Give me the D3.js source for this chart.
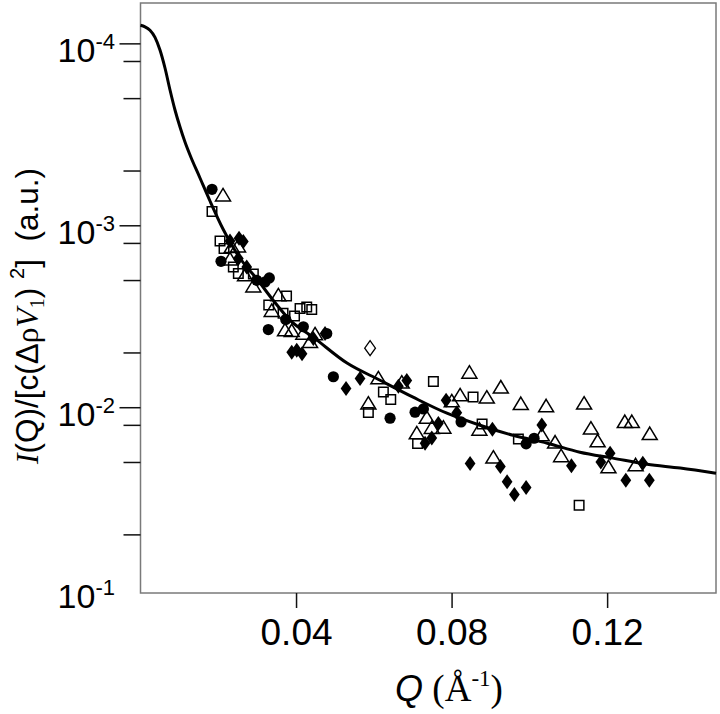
<!DOCTYPE html>
<html>
<head>
<meta charset="utf-8">
<script src="https://cdn.jsdelivr.net/npm/d3@7"></script>
<style>
body { margin: 0; background: #fff; }
svg { display: block; }
</style>
</head>
<body>
<svg id="chart" width="720" height="714"></svg>
<script>
// fitted model curve
var curveQ = [0, 0.00116, 0.00244, 0.00373, 0.00501, 0.0063, 0.00759, 0.00887, 0.01016, 0.01144, 0.01273, 0.0153, 0.01787, 0.02122, 0.0256, 0.0300, 0.0341, 0.0385, 0.0444, 0.0531, 0.0616, 0.0701, 0.0788, 0.0873, 0.0958, 0.1046, 0.1130, 0.1215, 0.1303, 0.1388, 0.148];
var curveI = [7.96e-5, 8.11e-5, 8.48e-5, 9.27e-5, 1.088e-4, 1.366e-4, 1.805e-4, 2.324e-4, 2.883e-4, 3.485e-4, 4.109e-4, 5.497e-4, 7.354e-4, 1.048e-3, 1.518e-3, 1.98e-3, 2.58e-3, 3.33e-3, 4.12e-3, 5.72e-3, 7.11e-3, 8.81e-3, 1.079e-2, 1.256e-2, 1.426e-2, 1.578e-2, 1.767e-2, 1.905e-2, 2.06e-2, 2.16e-2, 2.31e-2];

// filled circles
var circleQ = [0.01839, 0.02071, 0.02989, 0.03203, 0.03313, 0.03735, 0.04188, 0.03287, 0.0479, 0.0496, 0.06418, 0.07061, 0.07275, 0.08244, 0.09917, 0.10122];
var circleI = [6.34e-4, 1.577e-3, 2.006e-3, 2.049e-3, 1.948e-3, 3.296e-3, 3.612e-3, 3.742e-3, 3.936e-3, 6.80e-3, 1.149e-2, 1.065e-2, 1.022e-2, 1.205e-2, 1.591e-2, 1.481e-2];

// open triangles
var triangleQ = [0.02122, 0.02346, 0.02508, 0.02302, 0.02688, 0.02902, 0.03545, 0.03375, 0.03717, 0.03889, 0.04188, 0.04489, 0.0436, 0.0586, 0.06117, 0.06719, 0.07362, 0.07491, 0.07789, 0.07105, 0.08005, 0.08219, 0.08458, 0.08906, 0.08715, 0.09075, 0.09266, 0.0978, 0.1032, 0.10431, 0.10662, 0.10817, 0.11408, 0.11583, 0.11756, 0.12034, 0.12455, 0.12635, 0.12733, 0.13096];
var triangleI = [6.84e-4, 1.316e-3, 1.304e-3, 1.538e-3, 1.882e-3, 2.164e-3, 2.424e-3, 2.950e-3, 3.775e-3, 3.809e-3, 3.936e-3, 3.971e-3, 4.377e-3, 9.54e-3, 6.93e-3, 7.31e-3, 1.142e-2, 1.297e-2, 1.293e-2, 1.390e-2, 9.27e-3, 8.59e-3, 6.45e-3, 8.84e-3, 1.326e-2, 1.889e-2, 7.78e-3, 9.59e-3, 1.425e-2, 9.87e-3, 1.561e-2, 1.856e-2, 9.54e-3, 1.309e-2, 1.537e-2, 2.136e-2, 1.205e-2, 1.205e-2, 2.083e-2, 1.402e-2];

// open squares
var squareQ = [0.01839, 0.02045, 0.02148, 0.02387, 0.02516, 0.02902, 0.03756, 0.03298, 0.04103, 0.04275, 0.04404, 0.03961, 0.03666, 0.06246, 0.06436, 0.0586, 0.07532, 0.08553, 0.07125, 0.08785, 0.09718, 0.1128];
var squareI = [8.41e-4, 1.221e-3, 1.343e-3, 1.695e-3, 1.842e-3, 1.852e-3, 2.446e-3, 2.741e-3, 2.869e-3, 2.811e-3, 2.905e-3, 3.150e-3, 3.044e-3, 8.24e-3, 9.07e-3, 1.069e-2, 7.23e-3, 8.78e-3, 1.583e-2, 1.235e-2, 1.494e-2, 3.455e-2];

// filled diamonds
var diamondQ = [0.02302, 0.02534, 0.02644, 0.02516, 0.02732, 0.04445, 0.04746, 0.03889, 0.04018, 0.04154, 0.05286, 0.05646, 0.06632, 0.06848, 0.07318, 0.07491, 0.0766, 0.07859, 0.08134, 0.08476, 0.0905, 0.09255, 0.09428, 0.09615, 0.09917, 0.1032, 0.11082, 0.11838, 0.12077, 0.12481, 0.12918, 0.13086];
var diamondI = [1.220e-3, 1.179e-3, 1.227e-3, 1.524e-3, 1.695e-3, 4.193e-3, 3.936e-3, 4.986e-3, 4.861e-3, 5.082e-3, 7.89e-3, 6.96e-3, 7.66e-3, 7.13e-3, 1.577e-2, 1.477e-2, 1.229e-2, 9.15e-3, 1.072e-2, 2.039e-2, 1.321e-2, 2.117e-2, 2.572e-2, 3.014e-2, 2.759e-2, 1.251e-2, 2.099e-2, 1.998e-2, 1.790e-2, 2.518e-2, 2.033e-2, 2.518e-2];

// single open diamond
var openDiamondQ = [0.05904];
var openDiamondI = [4.74e-3];

// axes
var xLimits = [0, 0.148];
var yLimits = [6.0e-5, 0.105];
var xTicks = [0.04, 0.08, 0.12];
var xTickLabels = ["0.04", "0.08", "0.12"];
var yMajorTicks = [1e-4, 1e-3, 1e-2];
var yLabelValues = [1e-4, 1e-3, 1e-2, 1e-1];
var yLabelExp = ["-4", "-3", "-2", "-1"];
var yMinorTicks = [1.25e-4, 2e-4, 5e-4, 1.25e-3, 2e-3, 5e-3, 1.25e-2, 2e-2, 5e-2];

var sans = "'Liberation Sans', Arial, sans-serif";
var serif = "'Liberation Serif', 'Times New Roman', serif";

var svg = d3.select("#chart");

var xScale = d3.scaleLinear().domain(xLimits).range([140.5, 716]);
var yScale = d3.scaleLog().domain(yLimits).range([3, 593]);

function zip(qs, is) {
	return qs.map(function(q, i) { return {q: q, v: is[i]}; });
}

// marker shapes
var triangleShape = {draw: function(ctx, s) {
	ctx.moveTo(0, -s * 0.55);
	ctx.lineTo(s * 0.6, s * 0.45);
	ctx.lineTo(-s * 0.6, s * 0.45);
	ctx.closePath();
}};
var diamondShape = {draw: function(ctx, s) {
	ctx.moveTo(0, -s * 0.6);
	ctx.lineTo(s * 0.43, 0);
	ctx.lineTo(0, s * 0.6);
	ctx.lineTo(-s * 0.43, 0);
	ctx.closePath();
}};
var squareShape = {draw: function(ctx, s) {
	ctx.rect(-s / 2, -s / 2, s, s);
}};

// frame
svg.append("rect")
	.attr("x", xScale.range()[0])
	.attr("y", yScale.range()[0])
	.attr("width", xScale.range()[1] - xScale.range()[0])
	.attr("height", yScale.range()[1] - yScale.range()[0])
	.attr("fill", "none")
	.attr("stroke", "#7a7a7a")
	.attr("stroke-width", 1.5);

// x axis
var gx = svg.append("g")
	.attr("transform", "translate(0," + yScale.range()[1] + ")")
	.call(d3.axisBottom(xScale).tickValues(xTicks).tickSize(15).tickPadding(11)
		.tickFormat(function(d, i) { return xTickLabels[i]; }));
gx.select(".domain").remove();
gx.selectAll("line").attr("stroke", "#111").attr("stroke-width", 1.5);
gx.selectAll("text").attr("font-family", sans).attr("font-size", 37).attr("fill", "#000");

// y axis, major and minor ticks
var gy = svg.append("g")
	.attr("transform", "translate(" + xScale.range()[0] + ",0)")
	.call(d3.axisLeft(yScale).tickValues(yMajorTicks).tickSize(21).tickFormat(""));
gy.select(".domain").remove();
gy.selectAll("line").attr("stroke", "#111").attr("stroke-width", 1.5);

var gy2 = svg.append("g")
	.attr("transform", "translate(" + xScale.range()[0] + ",0)")
	.call(d3.axisLeft(yScale).tickValues(yMinorTicks).tickSize(17).tickFormat(""));
gy2.select(".domain").remove();
gy2.selectAll("line").attr("stroke", "#111").attr("stroke-width", 1.5);

// y tick labels 10^n
yLabelValues.forEach(function(v, i) {
	var t = svg.append("text")
		.attr("x", 115)
		.attr("y", yScale(v) + 19)
		.attr("text-anchor", "end")
		.attr("font-family", sans)
		.attr("fill", "#000");
	t.append("tspan").attr("font-size", 34).text("10");
	t.append("tspan").attr("font-size", 22).attr("dy", -13).text(yLabelExp[i]);
});

// data points
var pointsG = svg.append("g");

pointsG.selectAll(".circ")
	.data(zip(circleQ, circleI))
	.enter().append("circle")
	.attr("cx", function(d) { return xScale(d.q); })
	.attr("cy", function(d) { return yScale(d.v); })
	.attr("r", 5.6)
	.attr("fill", "#000");

pointsG.selectAll(".sq")
	.data(zip(squareQ, squareI))
	.enter().append("path")
	.attr("d", d3.symbol().type(squareShape).size(9.5))
	.attr("transform", function(d) { return "translate(" + xScale(d.q) + "," + yScale(d.v) + ")"; })
	.attr("fill", "none")
	.attr("stroke", "#000")
	.attr("stroke-width", 1.5);

pointsG.selectAll(".tri")
	.data(zip(triangleQ, triangleI))
	.enter().append("path")
	.attr("d", d3.symbol().type(triangleShape).size(12.5))
	.attr("transform", function(d) { return "translate(" + xScale(d.q) + "," + yScale(d.v) + ")"; })
	.attr("fill", "none")
	.attr("stroke", "#000")
	.attr("stroke-width", 1.5);

pointsG.selectAll(".dia")
	.data(zip(diamondQ, diamondI))
	.enter().append("path")
	.attr("d", d3.symbol().type(diamondShape).size(12.5))
	.attr("transform", function(d) { return "translate(" + xScale(d.q) + "," + yScale(d.v) + ")"; })
	.attr("fill", "#000");

pointsG.selectAll(".odia")
	.data(zip(openDiamondQ, openDiamondI))
	.enter().append("path")
	.attr("d", d3.symbol().type(diamondShape).size(12.5))
	.attr("transform", function(d) { return "translate(" + xScale(d.q) + "," + yScale(d.v) + ")"; })
	.attr("fill", "none")
	.attr("stroke", "#000")
	.attr("stroke-width", 1.3);

// model curve
var line = d3.line()
	.x(function(d) { return xScale(d.q); })
	.y(function(d) { return yScale(d.v); })
	.curve(d3.curveMonotoneX);

svg.append("path")
	.datum(zip(curveQ, curveI))
	.attr("d", line)
	.attr("fill", "none")
	.attr("stroke", "#000")
	.attr("stroke-width", 3);

// x title: Q (Å^-1)
var xt = svg.append("text")
	.attr("x", 449)
	.attr("y", 701)
	.attr("text-anchor", "middle")
	.attr("fill", "#000")
	.style("white-space", "pre");
xt.append("tspan").attr("font-family", sans).attr("font-style", "italic").attr("font-size", 36).text("Q");
xt.append("tspan").attr("font-family", serif).attr("font-size", 37).text(" (Å");
xt.append("tspan").attr("font-family", serif).attr("font-size", 23).attr("dy", -15).text("-1");
xt.append("tspan").attr("font-family", serif).attr("font-size", 37).attr("dy", 15).text(")");

// y title: I(Q)/[c(ΔρV1)^2] (a.u.)
var yt = svg.append("text")
	.attr("transform", "translate(38,316) rotate(-90)")
	.attr("text-anchor", "middle")
	.attr("font-family", sans)
	.attr("font-size", 31.5)
	.attr("fill", "#000")
	.style("white-space", "pre");
yt.append("tspan").attr("font-family", serif).attr("font-style", "italic").text("I");
yt.append("tspan").text("(Q)/[c(Δ");
yt.append("tspan").attr("font-family", serif).text("ρ");
yt.append("tspan").attr("font-family", serif).attr("font-style", "italic").text("V");
yt.append("tspan").attr("font-family", serif).attr("font-size", 20).attr("dy", 6).text("1");
yt.append("tspan").attr("dy", -6).text(") ");
yt.append("tspan").attr("font-size", 20).attr("dy", -14).text("2");
yt.append("tspan").attr("dy", 14).text("]  (a.u.)");
</script>
</body>
</html>
